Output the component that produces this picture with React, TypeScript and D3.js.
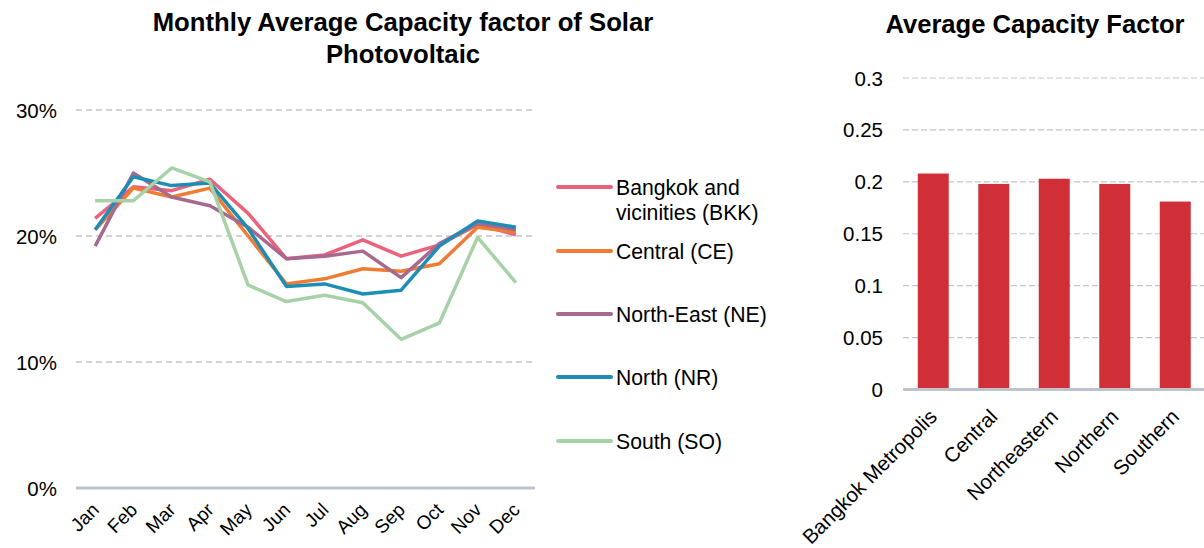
import React from "react";
import * as d3 from "d3";

const months = ["Jan","Feb","Mar","Apr","May","Jun","Jul","Aug","Sep","Oct","Nov","Dec"];
const seriesNames = ["Bangkok and vicinities (BKK)", "Central (CE)", "North-East (NE)", "North (NR)", "South (SO)"];
const seriesColors = ["#EA637B", "#EE7D33", "#A8698F", "#1E8DB5", "#A7D1A7"];
const bkk = [0.214, 0.239, 0.236, 0.245, 0.218, 0.182, 0.185, 0.197, 0.184, 0.193, 0.209, 0.201];
const ce  = [0.205, 0.238, 0.231, 0.238, 0.200, 0.162, 0.166, 0.174, 0.172, 0.178, 0.207, 0.203];
const ne  = [0.192, 0.250, 0.231, 0.224, 0.207, 0.182, 0.184, 0.188, 0.167, 0.194, 0.210, 0.205];
const nr  = [0.205, 0.247, 0.240, 0.242, 0.206, 0.160, 0.162, 0.154, 0.157, 0.192, 0.212, 0.207];
const so  = [0.228, 0.228, 0.254, 0.243, 0.161, 0.148, 0.153, 0.147, 0.118, 0.131, 0.199, 0.163];
const seriesValues = [bkk, ce, ne, nr, so];
const leftTicks = [0, 0.1, 0.2, 0.3];

const regions = ["Bangkok Metropolis", "Central", "Northeastern", "Northern", "Southern"];
const avgCF = [0.208, 0.198, 0.203, 0.198, 0.181];
const rightTicks = [0, 0.05, 0.1, 0.15, 0.2, 0.25, 0.3];

const FONT = "'Liberation Sans', Arial, sans-serif";
const GRID = "#BFC6CD";
const AXIS = "#BCC3CA";

export default function App() {
  // left chart scales
  const xL = d3.scaleBand<string>().domain(months).range([76, 535]);
  const yL = d3.scaleLinear().domain([0, 0.3]).range([488, 110]);
  const line = d3.line<number>()
    .x((_, i) => (xL(months[i]) as number) + xL.bandwidth() / 2)
    .y((v) => yL(v));

  // right chart scales
  const xR = d3.scaleBand<string>().domain(regions).range([903, 1205.5]).paddingInner(0.488).paddingOuter(0.244);
  const yR = d3.scaleLinear().domain([0, 0.3]).range([389.5, 78]);

  const legendY = [187, 251, 314, 377, 441];

  return (
    <svg width={1204} height={548} style={{ position: "absolute", left: 0, top: 0, background: "#fff" }} fontFamily={FONT}>
      {/* Left title */}
      <text x={403} y={31} textAnchor="middle" fontSize={25.7} fontWeight="bold" fill="#000">Monthly Average Capacity factor of Solar</text>
      <text x={403} y={63} textAnchor="middle" fontSize={25.7} fontWeight="bold" fill="#000">Photovoltaic</text>

      {/* Left gridlines */}
      {leftTicks.filter((t) => t > 0).map((t) => (
        <line key={t} x1={76} x2={535} y1={yL(t)} y2={yL(t)} stroke={GRID} strokeWidth={1.3} strokeDasharray="6 4" />
      ))}
      <line x1={76} x2={535} y1={yL(0)} y2={yL(0)} stroke={AXIS} strokeWidth={3} />
      {leftTicks.map((t) => (
        <text key={t} x={57} y={yL(t)} textAnchor="end" dominantBaseline="central" fontSize={20.5} fill="#000">
          {d3.format(".0%")(t)}
        </text>
      ))}
      {months.map((m) => (
        <text key={m} transform={`translate(${(xL(m) as number) + xL.bandwidth() / 2 + 5},${511}) rotate(-45)`} textAnchor="end" fontSize={19} fill="#000">{m}</text>
      ))}

      {/* Lines */}
      {seriesValues.map((vals, i) => (
        <path key={i} d={line(vals) as string} fill="none" stroke={seriesColors[i]} strokeWidth={3.5} strokeLinejoin="round" />
      ))}

      {/* Legend */}
      {seriesNames.map((name, i) => (
        <g key={name}>
          <line x1={558} x2={611} y1={legendY[i]} y2={legendY[i]} stroke={seriesColors[i]} strokeWidth={4} strokeLinecap="round" />
          {i === 0 ? (
            <text x={616} y={legendY[i]} fontSize={21.2} fill="#000">
              <tspan x={616} dy={0} dominantBaseline="central">Bangkok and</tspan>
              <tspan x={616} dy={25} dominantBaseline="central">vicinities (BKK)</tspan>
            </text>
          ) : (
            <text x={616} y={legendY[i]} dominantBaseline="central" fontSize={21.2} fill="#000">{name}</text>
          )}
        </g>
      ))}

      {/* Right title */}
      <text x={1035} y={33} textAnchor="middle" fontSize={25.6} fontWeight="bold" fill="#000">Average Capacity Factor</text>

      {/* Right gridlines */}
      {rightTicks.filter((t) => t > 0).map((t) => (
        <line key={t} x1={903} x2={1204} y1={yR(t)} y2={yR(t)} stroke={GRID} strokeWidth={1.2} strokeDasharray="6 3" />
      ))}
      {rightTicks.map((t) => (
        <text key={t} x={883} y={yR(t)} textAnchor="end" dominantBaseline="central" fontSize={20.5} fill="#000">
          {d3.format("")(t)}
        </text>
      ))}

      {/* Bars */}
      {regions.map((r, i) => (
        <rect key={r} x={xR(r) as number} width={xR.bandwidth()} y={yR(avgCF[i])} height={yR(0) - yR(avgCF[i])} fill="#D02F38" />
      ))}
      <line x1={903} x2={1204} y1={yR(0)} y2={yR(0)} stroke={AXIS} strokeWidth={3} />
      {regions.map((r) => (
        <text key={r} transform={`translate(${(xR(r) as number) + xR.bandwidth() / 2 + 5},${418}) rotate(-45)`} textAnchor="end" fontSize={20.5} fill="#000">{r}</text>
      ))}
    </svg>
  );
}
